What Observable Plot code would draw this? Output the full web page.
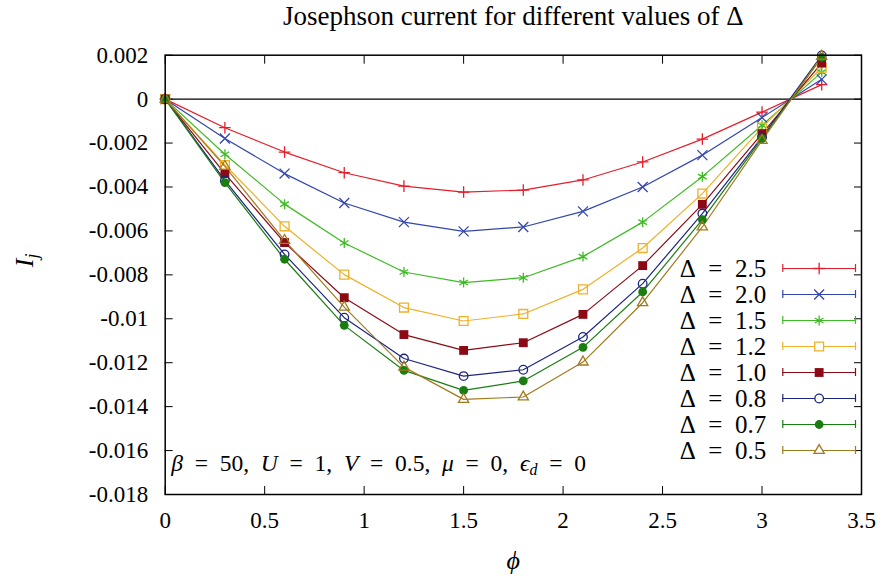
<!DOCTYPE html>
<html>
<head>
<meta charset="utf-8">
<script src="https://cdn.jsdelivr.net/npm/d3@7"></script>
<script src="https://cdn.jsdelivr.net/npm/@observablehq/plot@0.6"></script>
<style>
  html, body { margin: 0; padding: 0; background: white; }
  #chart { position: relative; width: 882px; height: 579px; font-family: "Liberation Serif", serif; }
  #legend { position: absolute; left: 660px; top: 252px; }
</style>
</head>
<body>
<div id="chart"><div id="legend"></div></div>
<script>
// ---- data ----
const phi = [0, 0.3, 0.6, 0.9, 1.2, 1.5, 1.8, 2.1, 2.4, 2.7, 3.0, 3.3];
const deltaLabels = ["2.5", "2.0", "1.5", "1.2", "1.0", "0.8", "0.7", "0.5"];
const ij_d25 = [0, -0.0013, -0.00241, -0.00335, -0.00396, -0.00423, -0.00414, -0.00368, -0.00286, -0.00182, -0.00059, 0.00066];
const ij_d20 = [0, -0.00179, -0.00339, -0.00473, -0.0056, -0.00602, -0.00582, -0.00511, -0.004, -0.00255, -0.00084, 0.0009];
const ij_d15 = [0, -0.00251, -0.00478, -0.00655, -0.00787, -0.00835, -0.00813, -0.00717, -0.0056, -0.00353, -0.00119, 0.00123];
const ij_d12 = [0, -0.003, -0.00579, -0.00799, -0.00949, -0.0101, -0.00978, -0.00866, -0.00678, -0.0043, -0.0013, 0.00143];
const ij_d10 = [0, -0.00339, -0.00653, -0.00904, -0.01072, -0.01144, -0.01109, -0.0098, -0.00758, -0.00479, -0.00157, 0.00164];
const ij_d08 = [0, -0.0037, -0.00707, -0.00995, -0.01181, -0.01261, -0.01232, -0.01083, -0.0084, -0.00521, -0.00173, 0.00199];
const ij_d07 = [0, -0.0038, -0.00729, -0.0103, -0.01235, -0.01326, -0.01283, -0.0113, -0.00878, -0.00549, -0.0018, 0.0019];
const ij_d05 = [0, -0.00306, -0.00643, -0.00947, -0.0122, -0.01367, -0.01356, -0.01197, -0.00927, -0.00582, -0.00188, 0.00195];

const xTicks = [0, 0.5, 1, 1.5, 2, 2.5, 3, 3.5];
const xTickLabels = ["0", "0.5", "1", "1.5", "2", "2.5", "3", "3.5"];
const yTicks = [-0.018, -0.016, -0.014, -0.012, -0.01, -0.008, -0.006, -0.004, -0.002, 0, 0.002];
const yTickLabels = ["-0.018", "-0.016", "-0.014", "-0.012", "-0.01", "-0.008", "-0.006", "-0.004", "-0.002", "0", "0.002"];

const titleText = "Josephson current for different values of Δ";
const xLabel = "ϕ";
const yLabelMain = "I";
const yLabelSub = "j";
const paramsPlaceholder = "β = 50, U = 1, V = 0.5, μ = 0, ϵd = 0";
const paramSegments = [["β", "i"], ["\u2002=\u200250,\u2002", ""], ["U", "i"], ["\u2002=\u20021,\u2002", ""], ["V", "i"], ["\u2002=\u20020.5,\u2002", ""], ["μ", "i"], ["\u2002=\u20020,\u2002", ""], ["ϵ", "i"], ["d", "sub"], ["\u2002=\u20020", ""]];

// ---- styles ----
const seriesValues = [ij_d25, ij_d20, ij_d15, ij_d12, ij_d10, ij_d08, ij_d07, ij_d05];
const colors = ["#e51e2a", "#3346ad", "#3dbb24", "#efb02a", "#8b0a15", "#1c2580", "#1a7d12", "#a07a1c"];
const symbolStyles = [
  {symbol: "plus", r: 3.8, filled: false},
  {symbol: "times", r: 4.6, filled: false},
  {symbol: "asterisk", r: 4.7, filled: false},
  {symbol: "square", r: 5.0, filled: false},
  {symbol: "square", r: 5.0, filled: true},
  {symbol: "circle", r: 4.3, filled: false},
  {symbol: "circle", r: 4.4, filled: true},
  {symbol: "triangle", r: 3.8, filled: false}
];

const rows = [];
deltaLabels.forEach((d, k) => phi.forEach((p, i) => rows.push({delta: d, phi: p, ij: seriesValues[k][i]})));

const fmtBy = (ticks, labels) => v => { const i = ticks.findIndex(t => Math.abs(t - v) < 1e-9); return i >= 0 ? labels[i] : ""; };
const serifCss = '"Liberation Serif", serif';

const main = Plot.plot({
  width: 882, height: 579,
  marginLeft: 164.7, marginRight: 21, marginTop: 54.7, marginBottom: 85,
  style: {fontSize: "23px", background: "white", color: "black", overflow: "visible"},
  x: {domain: [0, 3.5]},
  y: {domain: [-0.018, 0.002]},
  color: {domain: deltaLabels, range: colors},
  marks: [
    Plot.axisX(xTicks, {anchor: "bottom", tickSize: -8, tickPadding: 25, tickFormat: fmtBy(xTicks, xTickLabels), label: null}),
    Plot.axisX(xTicks, {anchor: "top", tickSize: -8, tickFormat: () => "", label: null}),
    Plot.axisY(yTicks, {anchor: "left", tickSize: -8, tickPadding: 25, tickFormat: fmtBy(yTicks, yTickLabels), label: null}),
    Plot.axisY(yTicks, {anchor: "right", tickSize: -8, tickFormat: () => "", label: null}),
    Plot.ruleY([0], {stroke: "black", strokeWidth: 1.2}),
    Plot.line(rows, {x: "phi", y: "ij", z: "delta", stroke: "delta", strokeWidth: 1.2}),
    ...deltaLabels.map((d, k) => {
      const s = symbolStyles[k];
      return Plot.dot(rows.filter(r => r.delta === d), {
        x: "phi", y: "ij", symbol: () => s.symbol, r: s.r,
        fill: s.filled ? colors[k] : "none",
        stroke: s.filled ? "none" : colors[k],
        strokeWidth: 1.3
      });
    }),
    Plot.frame({stroke: "black", strokeWidth: 1.5}),
    Plot.text([titleText], {frameAnchor: "top", text: d => d, lineAnchor: "bottom", dy: -30.4, fontSize: 27, fill: "black"}),
    Plot.text([xLabel], {frameAnchor: "bottom", text: d => d, lineAnchor: "middle", dy: 66, fontSize: 26, fontStyle: "italic", fill: "black"}),
    Plot.text([yLabelMain], {frameAnchor: "left", text: d => d, rotate: -90, lineAnchor: "middle", textAnchor: "middle", dx: -140.7, dy: -14.4, fontSize: 26, fontStyle: "italic", fill: "black"}),
    Plot.text([paramsPlaceholder], {frameAnchor: "bottom-left", text: d => d, textAnchor: "start", lineAnchor: "bottom", dx: 6, dy: -24, fontSize: 23.5, fill: "black"})
  ]
});

// rich text: subscripts and italics
d3.select(main).selectAll("text").each(function () {
  const t = d3.select(this);
  if (this.textContent === yLabelMain) {
    t.text(yLabelMain);
    t.append("tspan").attr("font-size", "18px").attr("baseline-shift", "-30%").text(yLabelSub);
  } else if (this.textContent === paramsPlaceholder) {
    t.text(null);
    paramSegments.forEach(([s, st]) => {
      const ts = t.append("tspan").text(s);
      if (st === "i") ts.style("font-style", "italic");
      if (st === "sub") ts.style("font-style", "italic").attr("font-size", "16px").attr("baseline-shift", "-25%");
    });
  }
});
d3.select(main).style("font-family", serifCss).selectAll("text, tspan").style("font-family", serifCss);
document.getElementById("chart").prepend(main);

// ---- legend ----
const legendRows = deltaLabels.map(d => ({delta: d}));
const legend = Plot.plot({
  width: 210, height: 214,
  marginLeft: 122.3, marginRight: 15, marginTop: 13.7, marginBottom: 13.7,
  style: {background: "transparent", color: "black", overflow: "visible"},
  x: {domain: [0, 1], axis: null},
  y: {type: "point", domain: deltaLabels, padding: 0, axis: null},
  color: {domain: deltaLabels, range: colors},
  marks: [
    Plot.ruleY(legendRows, {y: "delta", x1: 0, x2: 1, stroke: "delta", strokeWidth: 1.2}),
    Plot.ruleX(legendRows, {x: 0, y1: "delta", y2: "delta", stroke: "delta", insetTop: -4, insetBottom: -4, strokeWidth: 1.2}),
    Plot.ruleX(legendRows, {x: 1, y1: "delta", y2: "delta", stroke: "delta", insetTop: -4, insetBottom: -4, strokeWidth: 1.2}),
    ...deltaLabels.map((d, k) => {
      const s = symbolStyles[k];
      return Plot.dot(legendRows.filter(r => r.delta === d), {
        x: 0.5, y: "delta", symbol: () => s.symbol, r: s.r,
        fill: s.filled ? colors[k] : "white",
        stroke: s.filled ? "none" : colors[k],
        strokeWidth: 1.3
      });
    }),
    Plot.text(legendRows, {x: 0, y: "delta", text: d => `Δ\u2002=\u2002${d.delta}`, textAnchor: "end", lineAnchor: "middle", dx: -16.6, fontSize: 25, fill: "black"})
  ]
});
d3.select(legend).style("font-family", serifCss).selectAll("text").style("font-family", serifCss);
document.getElementById("legend").appendChild(legend);
</script>
</body>
</html>
